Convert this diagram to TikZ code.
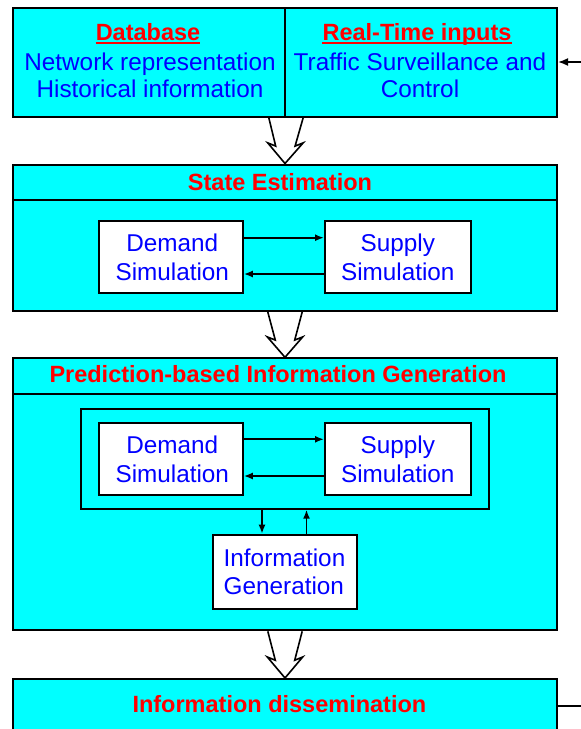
\documentclass[tikz,border=0pt]{standalone}
\usepackage{fontspec}
\setmainfont{Liberation Sans}
\usetikzlibrary{arrows.meta,calc}
\definecolor{boxcyan}{RGB}{0,255,255}
\definecolor{titlered}{RGB}{255,0,0}
\definecolor{textblue}{RGB}{0,0,255}
\newcommand\hollowlink[2]{%
  \draw[hollowline] ($(#1)+(-17.2,0)$) -- ($(#1)!0.62!(#2)+(-9.7,0)$) -- ($(#1)!0.55!(#2)+(-17.7,0)$) -- (#2)
     -- ($(#1)!0.55!(#2)+(17.7,0)$) -- ($(#1)!0.62!(#2)+(9.7,0)$) -- ($(#1)+(17.2,0)$);}
\begin{document}
\begin{tikzpicture}[x=1pt,y=-1pt,
  cyanbox/.style={draw=black, line width=2pt, fill=boxcyan, anchor=north west, inner sep=0pt},
  whitebox/.style={draw=black, line width=2pt, fill=white, anchor=north west, inner sep=0pt,
     text=textblue, align=center, font=\fontsize{24.3}{29}\selectfont},
  framebox/.style={draw=black, line width=2pt, anchor=north west, inner sep=0pt},
  titletext/.style={text=titlered, font=\fontsize{23.5}{28}\selectfont\bfseries, inner sep=0pt, text depth=0pt},
  bodytext/.style={text=textblue, align=center, font=\fontsize{24.3}{27}\selectfont, inner sep=0pt},
  arr/.style={line width=1.7pt, -{Latex[length=9pt,width=7pt]}},
  hollowline/.style={line width=1.6pt, line join=miter},
  sepline/.style={line width=2pt},
  uline/.style={draw=titlered, line width=1.8pt}
]
\useasboundingbox (0,0) rectangle (581,729);
\clip (0,0) rectangle (581,729);

% top boxes
\node[cyanbox, minimum width=272pt, minimum height=108.4pt] (db) at (12,7.3) {};
\node[cyanbox, minimum width=272pt, minimum height=108.4pt] (rt) at (284,7.3) {};
\node[titletext] (dbT) at (148,32) {Database};
\node[bodytext] (dbB) at (150,75.5) {Network representation\\Historical information};
\node[titletext] (rtT) at (417,32) {Real-Time inputs};
\node[bodytext] (rtB) at (420,75.5) {Traffic Surveillance and\\Control};
\path[uline] ([yshift=-2pt]dbT.south west) -- ([yshift=-2pt]dbT.south east);
\path[uline] ([yshift=-2pt]rtT.south west) -- ([yshift=-2pt]rtT.south east);
\coordinate (inR) at (581,62);
\draw[line width=1.7pt, -{Latex[length=10pt,width=8pt]}] (inR) -- (inR -| rt.east);

% state estimation
\node[cyanbox, minimum width=544pt, minimum height=146.5pt] (se) at (12,163.5) {};
\coordinate (hdrA) at (0,200);
\draw[sepline] (se.west |- hdrA) -- (se.east |- hdrA);
\node[titletext] (seT) at (280,182) {State Estimation};
\node[whitebox, minimum width=144pt, minimum height=72pt, text width=144pt] (demA) at (97.8,220) {\hspace*{3pt}Demand\\\hspace*{3pt}Simulation};
\node[whitebox, minimum width=145.6pt, minimum height=72pt] (supA) at (324,220) {Supply\\Simulation};
\draw[arr] ([yshift=-17.7pt]demA.north east) -- ([yshift=-17.7pt]supA.north west);
\draw[arr] ([yshift=-54pt]supA.north west) -- ([yshift=-54pt]demA.north east);

% prediction
\node[cyanbox, minimum width=544pt, minimum height=272pt] (pr) at (12,357.3) {};
\coordinate (hdrB) at (0,393.7);
\draw[sepline] (pr.west |- hdrB) -- (pr.east |- hdrB);
\node[titletext] (prT) at (278,374) {Prediction-based Information Generation};
\node[framebox, minimum width=407.8pt, minimum height=99.7pt] (fr) at (80,408) {};
\node[whitebox, minimum width=144pt, minimum height=72.3pt, text width=144pt] (demB) at (97.8,421.7) {\hspace*{3pt}Demand\\\hspace*{3pt}Simulation};
\node[whitebox, minimum width=145.6pt, minimum height=72.3pt] (supB) at (324,421.7) {Supply\\Simulation};
\draw[arr] ([yshift=-17.6pt]demB.north east) -- ([yshift=-17.6pt]supB.north west);
\draw[arr] ([yshift=-54.3pt]supB.north west) -- ([yshift=-54.3pt]demB.north east);
\node[whitebox, align=left, font=\fontsize{24.3}{27.5}\selectfont, minimum width=144pt, minimum height=74pt] (ig) at (211.5,533.7) {Information\\Generation};
\coordinate (downX) at (262,0);
\coordinate (upX) at (306.5,0);
\draw[arr] (fr.south -| downX) -- (ig.north -| downX);
\draw[arr] (ig.north -| upX) -- (fr.south -| upX);

% dissemination
\node[cyanbox, minimum width=544pt, minimum height=90pt] (dis) at (12,678) {};
\node[titletext] (disT) at (279.4,704) {Information dissemination};
\coordinate (outR) at (581,706);
\draw[line width=1.7pt] (dis.east |- outR) -- (outR);

% hollow arrows
\hollowlink{db.south east}{se.north}
\hollowlink{se.south}{pr.north}
\hollowlink{pr.south}{dis.north}
\end{tikzpicture}
\end{document}
